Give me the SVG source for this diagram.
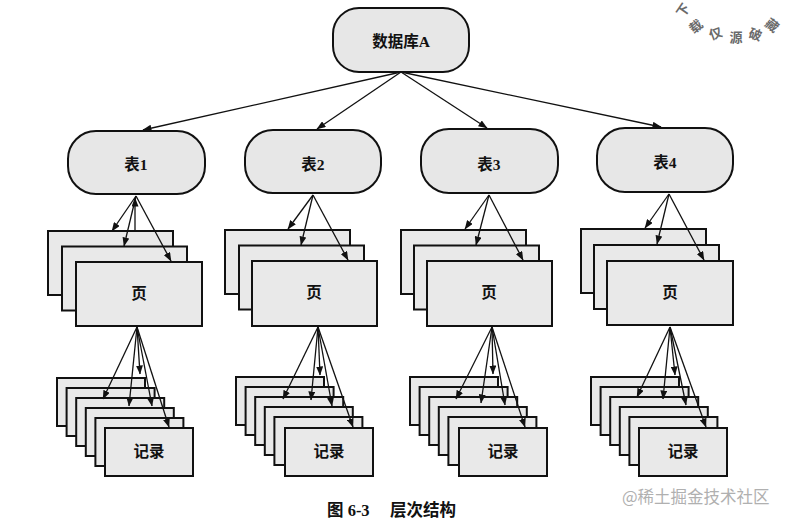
<svg xmlns="http://www.w3.org/2000/svg" width="786" height="521" viewBox="0 0 786 521">
<style>
  .bg{fill:#ffffff}
  .node{fill:#e7e7e7;stroke:#111;stroke-width:2}
  .box{fill:#e9e9e9;stroke:#111;stroke-width:2}
  .lbl{font-family:"Liberation Serif","Noto Sans CJK SC",serif;font-weight:bold;font-size:15.5px;fill:#111;text-anchor:middle}
  .cap{font-family:"Liberation Serif","Noto Sans CJK SC",serif;font-weight:bold;font-size:16.5px;fill:#111}
  .wm{font-family:"Noto Sans CJK SC",sans-serif;font-size:16.5px;fill:#b0b0b0}
  .stamp{font-family:"Noto Sans CJK SC",sans-serif;font-weight:bold;font-size:13px;fill:#6a6a6a;text-anchor:middle}
  .edge{stroke:#111;stroke-width:1.3;fill:none;marker-end:url(#ah)}
</style>
<defs>
  <marker id="ah" markerUnits="userSpaceOnUse" markerWidth="9" markerHeight="7" refX="8.5" refY="3.5" orient="auto">
    <path d="M0,0 L9,3.5 L0,7 Z" fill="#111"/>
  </marker>
</defs>
<rect class="bg" x="0" y="0" width="786" height="521"/>

<g id="db">
  <rect class="node" x="333" y="8" width="136" height="64" rx="26"/>
  <text class="lbl" x="401" y="47">数据库A</text>
</g>

<g id="t1"><rect class="node" x="68" y="131" width="137" height="63" rx="28"/><text class="lbl" x="136" y="170">表1</text></g>
<g id="t2"><rect class="node" x="245" y="130" width="136" height="63" rx="28"/><text class="lbl" x="313" y="170">表2</text></g>
<g id="t3"><rect class="node" x="421" y="129" width="137" height="64" rx="28"/><text class="lbl" x="489" y="170">表3</text></g>
<g id="t4"><rect class="node" x="597" y="128" width="136" height="64" rx="28"/><text class="lbl" x="665" y="168">表4</text></g>

<g id="p1">
  <rect class="box" x="48" y="231" width="125" height="64"/>
  <rect class="box" x="62" y="246.5" width="125" height="64"/>
  <rect class="box" x="76" y="262" width="126" height="64"/>
  <text class="lbl" x="139" y="299">页</text>
</g>
<g id="p2">
  <rect class="box" x="225" y="230" width="125" height="64"/>
  <rect class="box" x="239" y="245.5" width="125" height="64"/>
  <rect class="box" x="252" y="261" width="125" height="65"/>
  <text class="lbl" x="314" y="298">页</text>
</g>
<g id="p3">
  <rect class="box" x="401" y="230" width="125" height="64"/>
  <rect class="box" x="414" y="245.5" width="125" height="64"/>
  <rect class="box" x="427" y="261" width="125" height="65"/>
  <text class="lbl" x="489" y="298">页</text>
</g>
<g id="p4">
  <rect class="box" x="581" y="229" width="125" height="64"/>
  <rect class="box" x="594" y="245" width="125" height="64"/>
  <rect class="box" x="607" y="261" width="126" height="64"/>
  <text class="lbl" x="670" y="298">页</text>
</g>

<g id="r1">
  <rect class="box" x="57" y="378" width="88" height="48"/>
  <rect class="box" x="66.6" y="388" width="88" height="48"/>
  <rect class="box" x="76.2" y="398" width="88" height="48"/>
  <rect class="box" x="85.8" y="408" width="88" height="48"/>
  <rect class="box" x="95.4" y="418" width="88" height="48"/>
  <rect class="box" x="105" y="428" width="88" height="48"/>
  <text class="lbl" x="149" y="457">记录</text>
</g>
<g id="r2">
  <rect class="box" x="236" y="377" width="88" height="48"/>
  <rect class="box" x="245.6" y="387" width="88" height="48"/>
  <rect class="box" x="255.2" y="397" width="88" height="48"/>
  <rect class="box" x="264.8" y="407" width="88" height="48"/>
  <rect class="box" x="274.4" y="417" width="88" height="48"/>
  <rect class="box" x="285" y="428" width="88" height="48"/>
  <text class="lbl" x="329" y="457">记录</text>
</g>
<g id="r3">
  <rect class="box" x="410" y="377" width="88" height="48"/>
  <rect class="box" x="419.6" y="387" width="88" height="48"/>
  <rect class="box" x="429.2" y="397" width="88" height="48"/>
  <rect class="box" x="438.8" y="407" width="88" height="48"/>
  <rect class="box" x="448.4" y="417" width="88" height="48"/>
  <rect class="box" x="459" y="428" width="88" height="48"/>
  <text class="lbl" x="503" y="457">记录</text>
</g>
<g id="r4">
  <rect class="box" x="591" y="377" width="88" height="48"/>
  <rect class="box" x="600.6" y="387" width="88" height="48"/>
  <rect class="box" x="610.2" y="397" width="88" height="48"/>
  <rect class="box" x="619.8" y="407" width="88" height="48"/>
  <rect class="box" x="629.4" y="417" width="88" height="48"/>
  <rect class="box" x="639" y="428" width="88" height="48"/>
  <text class="lbl" x="683" y="457">记录</text>
</g>

<g id="connectors">
  <line class="edge" x1="401" y1="72" x2="143" y2="130"/>
  <line class="edge" x1="401" y1="72" x2="317" y2="129"/>
  <line class="edge" x1="401" y1="72" x2="487" y2="128"/>
  <line class="edge" x1="401" y1="72" x2="661" y2="127"/>

  <line class="edge" x1="136" y1="196" x2="112" y2="231"/>
  <line class="edge" x1="136" y1="196" x2="124" y2="246"/>
  <line class="edge" x1="136" y1="196" x2="171" y2="261"/>
  <line class="edge" x1="135" y1="231" x2="135" y2="198"/>

  <line class="edge" x1="313" y1="195" x2="288" y2="229"/>
  <line class="edge" x1="313" y1="195" x2="301" y2="245"/>
  <line class="edge" x1="313" y1="195" x2="348" y2="260"/>

  <line class="edge" x1="489" y1="195" x2="465" y2="229"/>
  <line class="edge" x1="489" y1="195" x2="476" y2="245"/>
  <line class="edge" x1="489" y1="195" x2="523" y2="260"/>

  <line class="edge" x1="669" y1="194" x2="645" y2="228"/>
  <line class="edge" x1="669" y1="194" x2="657" y2="244"/>
  <line class="edge" x1="669" y1="194" x2="704" y2="260"/>

  <line class="edge" x1="137" y1="327" x2="103" y2="399"/>
  <line class="edge" x1="137" y1="327" x2="129" y2="406"/>
  <line class="edge" x1="137" y1="327" x2="140" y2="374"/>
  <line class="edge" x1="137" y1="327" x2="152" y2="406"/>
  <line class="edge" x1="137" y1="327" x2="169" y2="427"/>

  <line class="edge" x1="318" y1="327" x2="283" y2="399"/>
  <line class="edge" x1="318" y1="327" x2="311" y2="400"/>
  <line class="edge" x1="318" y1="327" x2="320" y2="375"/>
  <line class="edge" x1="318" y1="327" x2="332" y2="406"/>
  <line class="edge" x1="318" y1="327" x2="353" y2="427"/>

  <line class="edge" x1="492" y1="327" x2="456" y2="399"/>
  <line class="edge" x1="492" y1="327" x2="481" y2="403"/>
  <line class="edge" x1="492" y1="327" x2="493" y2="374"/>
  <line class="edge" x1="492" y1="327" x2="505" y2="405"/>
  <line class="edge" x1="492" y1="327" x2="525" y2="427"/>

  <line class="edge" x1="670" y1="327" x2="637" y2="397"/>
  <line class="edge" x1="670" y1="327" x2="663" y2="399"/>
  <line class="edge" x1="670" y1="327" x2="675" y2="375"/>
  <line class="edge" x1="670" y1="327" x2="686" y2="405"/>
  <line class="edge" x1="670" y1="327" x2="706" y2="427"/>
</g>

<text class="cap" x="327" y="516">图 6-3</text>
<text class="cap" x="390" y="516">层次结构</text>
<text class="wm" x="622" y="503">@稀土掘金技术社区</text>

<g id="stamp">
  <text class="stamp" transform="translate(687,13) rotate(-55)">下</text>
  <text class="stamp" transform="translate(699,30) rotate(-40)">载</text>
  <text class="stamp" transform="translate(717,38) rotate(-20)">仅</text>
  <text class="stamp" transform="translate(736,42) rotate(0)">源</text>
  <text class="stamp" transform="translate(754,39) rotate(18)">破</text>
  <text class="stamp" transform="translate(769,29) rotate(38)">藏</text>
</g>
</svg>
